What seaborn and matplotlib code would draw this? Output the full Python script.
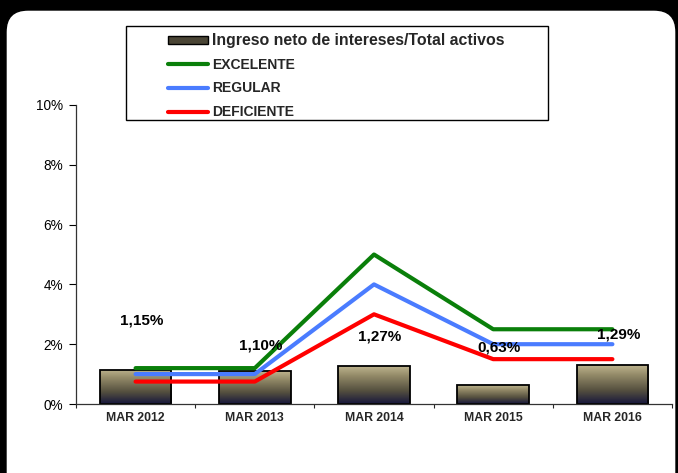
import numpy as np
import pandas as pd
import matplotlib
matplotlib.use("Agg")
import matplotlib.pyplot as plt
import seaborn as sns
from matplotlib.patches import FancyBboxPatch, Rectangle, Patch
from matplotlib.lines import Line2D
from matplotlib.colors import LinearSegmentedColormap
from matplotlib.ticker import FixedLocator, FuncFormatter

periods = ["MAR 2012", "MAR 2013", "MAR 2014", "MAR 2015", "MAR 2016"]
ratio = [1.15, 1.10, 1.27, 0.63, 1.29]
ratio_labels = ["1,15%", "1,10%", "1,27%", "0,63%", "1,29%"]
excelente = [1.2, 1.2, 5.0, 2.5, 2.5]
regular = [1.0, 1.0, 4.0, 2.0, 2.0]
deficiente = [0.75, 0.75, 3.0, 1.5, 1.5]

# where the value labels sit (in % units), as in the original
label_y = [2.78, 1.97, 2.27, 1.89, 2.31]

W, H = 678, 473

sns.set_style("white")
plt.rcParams["font.family"] = ["Liberation Sans", "DejaVu Sans"]

fig = plt.figure(figsize=(W / 100, H / 100), dpi=100, facecolor="black")

# white rounded panel on the black frame
bg = fig.add_axes([0, 0, 1, 1], zorder=-1)
bg.set_xlim(0, W)
bg.set_ylim(H, 0)
bg.axis("off")
bg.add_patch(FancyBboxPatch((6, 10), 670, 520, boxstyle="round,pad=0,rounding_size=22",
                            facecolor="white", edgecolor="black", linewidth=1))
bg.add_patch(Rectangle((126, 26), 422, 94, facecolor="white", edgecolor="black", linewidth=1))

ax = fig.add_axes([76 / W, 1 - 404 / H, (672 - 76) / W, (404 - 105) / H])
ax.set_facecolor("none")

df = pd.DataFrame({"period": periods, "ratio": ratio})
sns.barplot(data=df, x="period", y="ratio", color="#6b6550", width=0.6,
            edgecolor="black", linewidth=1.3, ax=ax, zorder=2)

# gradient fill for the bars
cmap = LinearSegmentedColormap.from_list(
    "bar", [(0, "#17173c"), (0.35, "#55503f"), (0.75, "#938a68"), (1, "#bdb38d")])
grad = np.linspace(0, 1, 100).reshape(-1, 1)
for p in ax.patches:
    x0, w, h = p.get_x(), p.get_width(), p.get_height()
    im = ax.imshow(grad, extent=[x0, x0 + w, 0, h], origin="lower", aspect="auto",
                   cmap=cmap, zorder=1.9)
    im.set_clip_path(p)
    p.set_facecolor("none")

xs = np.arange(len(periods))
lines = pd.DataFrame({"x": np.tile(xs, 3),
                      "y": excelente + regular + deficiente,
                      "serie": ["EXCELENTE"] * 5 + ["REGULAR"] * 5 + ["DEFICIENTE"] * 5})
colors = {"EXCELENTE": "#0a7f0a", "REGULAR": "#4a7cff", "DEFICIENTE": "#ff0000"}
sns.lineplot(data=lines, x="x", y="y", hue="serie", palette=colors, linewidth=3,
             legend=False, ax=ax, zorder=3)

for i, (t, yy) in enumerate(zip(ratio_labels, label_y)):
    ax.text(i + 0.05, yy, t, ha="center", va="center", fontsize=11, fontweight="bold",
            color="black", zorder=4)

ax.set_xlim(-0.5, 4.5)
ax.set_ylim(0, 10)
ax.set_yticks([0, 2, 4, 6, 8, 10])
ax.yaxis.set_major_formatter(FuncFormatter(lambda v, _: f"{v:.0f}%"))
ax.set_xticks(xs)
ax.set_xticklabels(periods, fontsize=8.8, fontweight="bold")
ax.xaxis.set_minor_locator(FixedLocator(np.arange(-0.5, 5, 1)))
ax.tick_params(axis="x", which="major", length=0, pad=6)
ax.tick_params(axis="x", which="minor", length=3, width=0.8, direction="out", bottom=True)
ax.tick_params(axis="y", length=5, width=0.8, direction="out", left=True, pad=4,
               labelsize=9.8, colors="black")
ax.set_xlabel("")
ax.set_ylabel("")
for s in ["top", "right"]:
    ax.spines[s].set_visible(False)
for s in ["left", "bottom"]:
    ax.spines[s].set_color("#333333")
    ax.spines[s].set_linewidth(0.9)

handles = [Patch(facecolor="#4a4535", edgecolor="black", linewidth=1),
           Line2D([], [], color=colors["EXCELENTE"], linewidth=3),
           Line2D([], [], color=colors["REGULAR"], linewidth=3),
           Line2D([], [], color=colors["DEFICIENTE"], linewidth=3)]
labels = ["Ingreso neto de intereses/Total activos", "EXCELENTE", "REGULAR", "DEFICIENTE"]
leg = fig.legend(handles, labels, loc="upper left", bbox_to_anchor=(168 / W, 1 - 33 / H),
                 frameon=False, borderpad=0, borderaxespad=0, handlelength=2.9,
                 handleheight=0.5, handletextpad=0.25, labelspacing=0.70,
                 prop={"size": 10, "weight": "bold"})
leg.get_texts()[0].set_fontsize(11.4)
leg.set_zorder(10)

fig.savefig("out.png", dpi=100, facecolor="black")
